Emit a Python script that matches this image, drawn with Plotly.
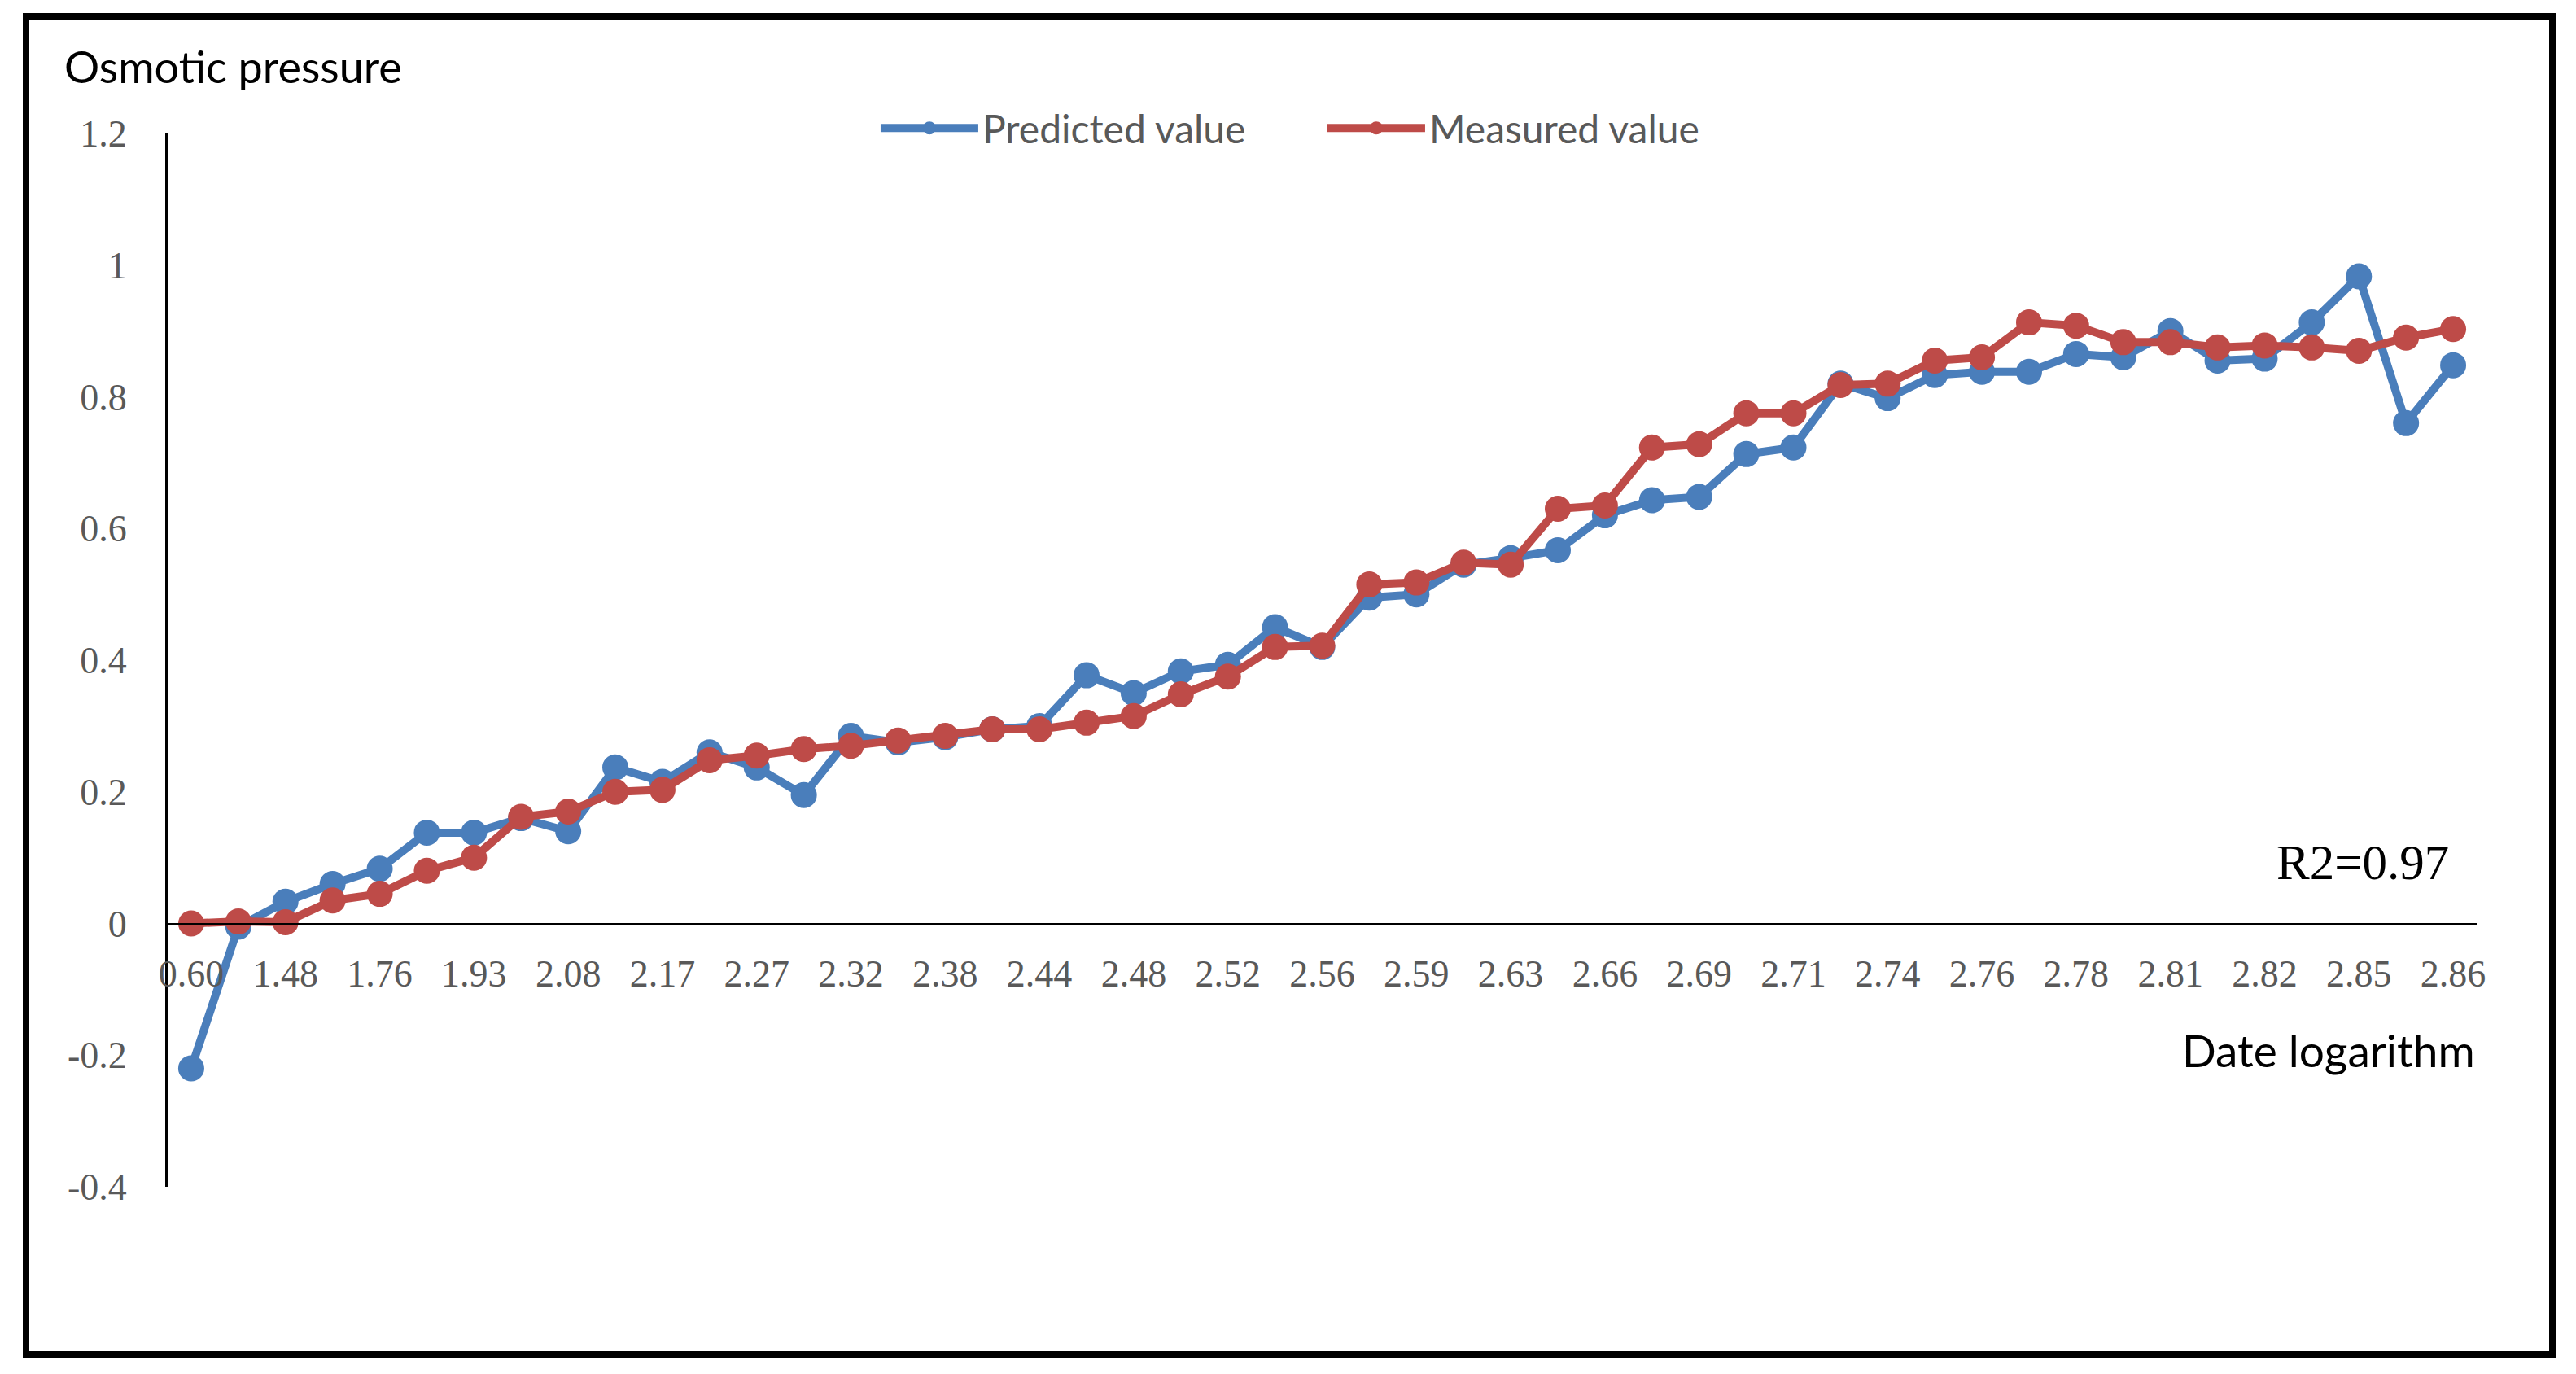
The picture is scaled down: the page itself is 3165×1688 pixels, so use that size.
import plotly.graph_objects as go

# ---- data ----
x_tick_labels = ["0.60", "1.48", "1.76", "1.93", "2.08", "2.17", "2.27", "2.32", "2.38",
                 "2.44", "2.48", "2.52", "2.56", "2.59", "2.63", "2.66", "2.69", "2.71",
                 "2.74", "2.76", "2.78", "2.81", "2.82", "2.85", "2.86"]

predicted = [-0.22, -0.005, 0.033, 0.060, 0.083, 0.138, 0.138, 0.160, 0.140, 0.237,
             0.215, 0.260, 0.237, 0.195, 0.285, 0.275, 0.283, 0.295, 0.300, 0.377,
             0.350, 0.383, 0.393, 0.450, 0.420, 0.495, 0.500, 0.545, 0.555, 0.567,
             0.620, 0.643, 0.648, 0.713, 0.723, 0.820, 0.798, 0.833, 0.838, 0.838,
             0.865, 0.860, 0.900, 0.855, 0.858, 0.913, 0.983, 0.760, 0.848]

measured = [0.000, 0.003, 0.002, 0.035, 0.045, 0.080, 0.100, 0.162, 0.170, 0.200,
            0.203, 0.248, 0.255, 0.265, 0.270, 0.278, 0.285, 0.295, 0.295, 0.305,
            0.315, 0.348, 0.375, 0.420, 0.422, 0.515, 0.518, 0.548, 0.545, 0.630,
            0.635, 0.723, 0.728, 0.775, 0.775, 0.818, 0.820, 0.855, 0.860, 0.913,
            0.908, 0.883, 0.883, 0.875, 0.878, 0.875, 0.870, 0.890, 0.903]

y_tick_vals = [-0.4, -0.2, 0, 0.2, 0.4, 0.6, 0.8, 1.0, 1.2]
y_tick_text = ["-0.4", "-0.2", "0", "0.2", "0.4", "0.6", "0.8", "1", "1.2"]

series_names = ["Predicted value", "Measured value"]
series_colors = ["#4A7EBB", "#BE4B48"]

x_index = list(range(len(predicted)))
x_tick_positions = x_index[::2]

fig = go.Figure()
for name, vals, col in zip(series_names, [predicted, measured], series_colors):
    fig.add_trace(go.Scatter(
        x=x_index, y=vals, name=name, mode="lines+markers",
        line=dict(color=col, width=10),
        marker=dict(color=col, size=32),
    ))

fig.update_layout(
    width=3157, height=1680,
    margin=dict(l=198, r=122, t=156, b=230),
    paper_bgcolor="white", plot_bgcolor="white",
    showlegend=True,
    legend=dict(orientation="h", x=0.307, xanchor="left", y=1.005, yanchor="middle",
                font=dict(family="Lato", size=48, color="#595959"),
                itemwidth=120, entrywidth=414, entrywidthmode="pixels",
                bgcolor="rgba(0,0,0,0)"),
    xaxis=dict(range=[-0.5, len(predicted) - 0.5], anchor="free", position=0.25,
               tickmode="array", tickvals=x_tick_positions, ticktext=x_tick_labels,
               showgrid=False, zeroline=False, showline=True, linecolor="#000000",
               linewidth=3, ticks="", ticklabelstandoff=20,
               tickfont=dict(family="Liberation Serif", size=46, color="#595959")),
    yaxis=dict(range=[-0.4, 1.2], tickmode="array", tickvals=y_tick_vals,
               ticktext=y_tick_text, showgrid=False, zeroline=False, showline=True,
               linecolor="#000000", linewidth=3, ticks="", ticklabelstandoff=38,
               tickfont=dict(family="Liberation Serif", size=46, color="#595959")),
    annotations=[
        dict(text="Osmotic pressure", xref="paper", yref="paper", x=-0.0455, y=1.064,
             xanchor="left", yanchor="middle", showarrow=False,
             font=dict(family="Lato", size=54, color="#000000")),
        dict(text="Date logarithm", xref="paper", yref="paper", x=1.0, y=0.1298,
             xanchor="right", yanchor="middle", showarrow=False,
             font=dict(family="Lato", size=55, color="#000000")),
        dict(text="R2=0.97", xref="paper", yref="paper", x=0.9887, y=0.3076,
             xanchor="right", yanchor="middle", showarrow=False,
             font=dict(family="Liberation Serif", size=61, color="#000000")),
    ],
    shapes=[
        dict(type="rect", xref="paper", yref="paper",
             x0=(32 - 206) / 2837, x1=(3136 - 206) / 2837,
             y0=(1458 - 1664) / 1294, y1=(1458 - 20) / 1294,
             line=dict(color="#000000", width=8), fillcolor="rgba(0,0,0,0)", layer="above"),
    ],
)

fig.write_html("out.html")
